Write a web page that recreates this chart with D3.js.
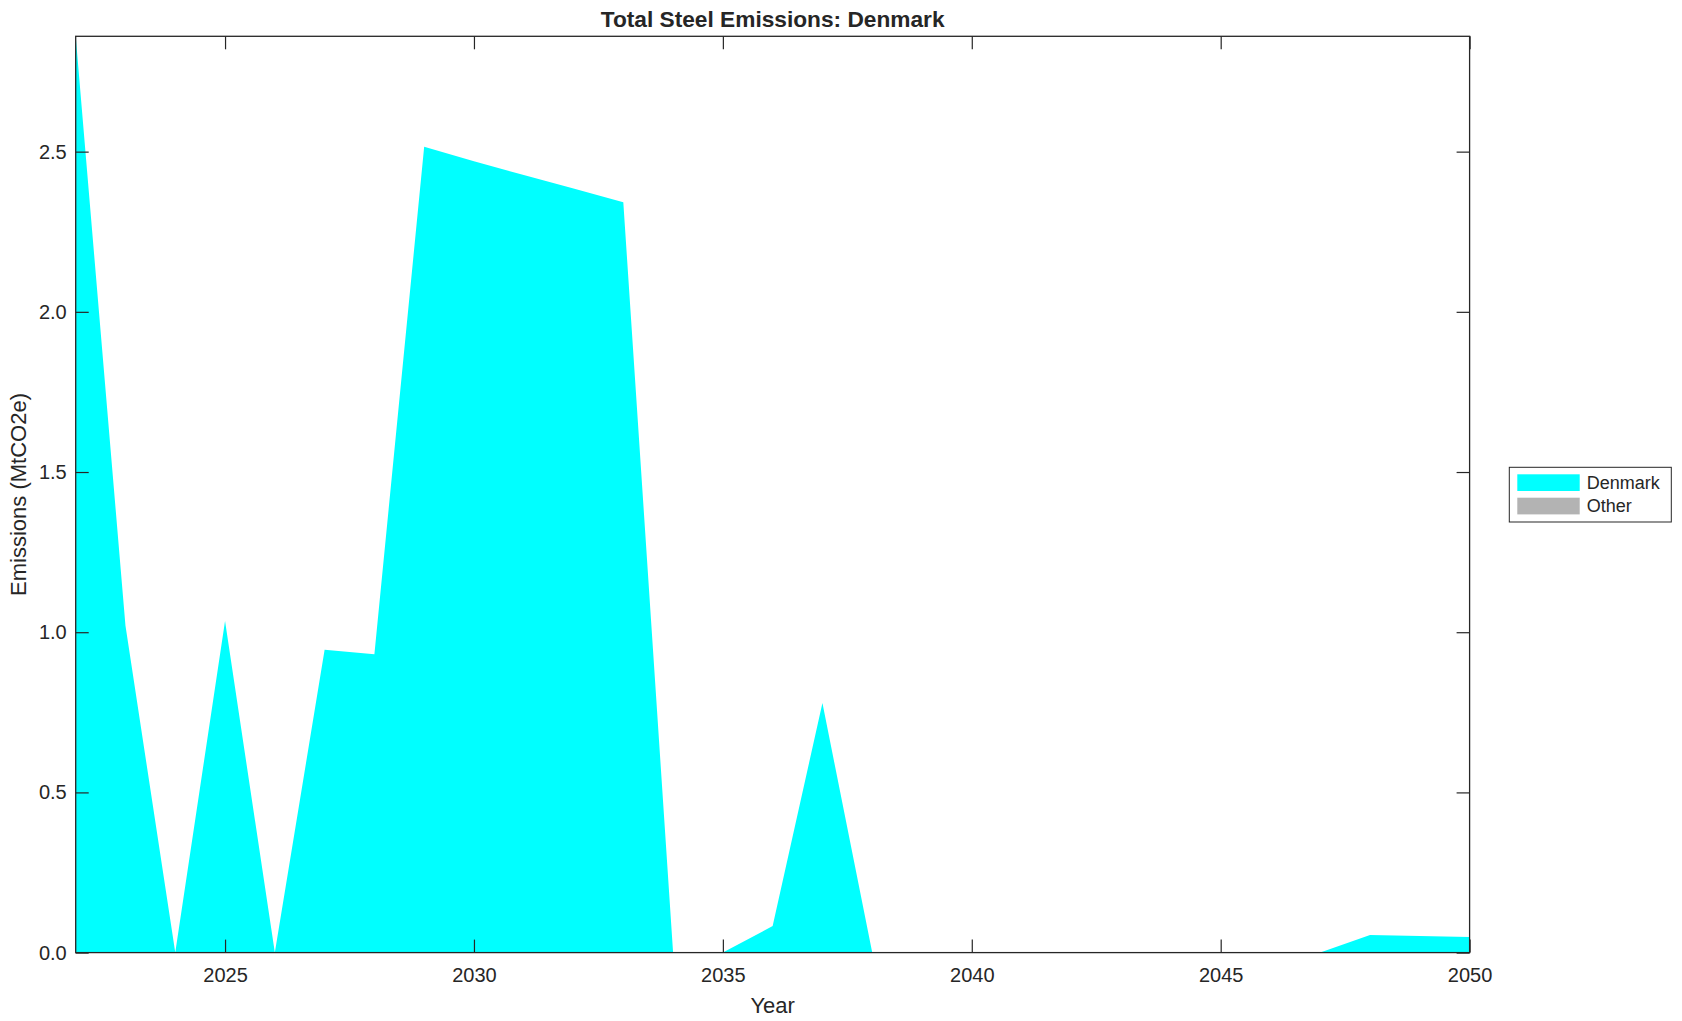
<!DOCTYPE html>
<html>
<head>
<meta charset="utf-8">
<script src="https://cdn.jsdelivr.net/npm/d3@7"></script>
<style>
  body { margin: 0; background: #fff; }
  svg text { font-family: "Liberation Sans", Arial, Helvetica, sans-serif; fill: #262626; }
</style>
</head>
<body>
<svg id="chart" width="1682" height="1021"></svg>
<script>
// data
var years = d3.range(2022, 2051)
var denmark = [2.86, 1.02, 0, 1.035, 0, 0.945, 0.931, 2.515, 2.47, 2.427, 2.385, 2.342, 0, 0,
  0.083, 0.779, 0, 0, 0, 0, 0, 0, 0, 0, 0, 0, 0.055, 0.052, 0.049]
var other = years.map(function () { return 0 })
var seriesNames = ['Denmark', 'Other']
var seriesColors = ['#00ffff', '#b3b3b3']
var xTicks = [2025, 2030, 2035, 2040, 2045, 2050]
var yTicks = [0, 0.5, 1.0, 1.5, 2.0, 2.5]

var svg = d3.select('#chart')
var plotLeft = 75.7, plotRight = 1469.6, plotTop = 36.3, plotBottom = 952.6
var axisColor = '#262626'
var tickLen = 13

var rows = years.map(function (yr, i) {
  return {year: yr, Denmark: denmark[i], Other: other[i]}
})
var stacked = d3.stack().keys(seriesNames)(rows)

var x = d3.scaleLinear().domain([2022, 2050]).range([plotLeft, plotRight])
var y = d3.scaleLinear().domain([0, d3.max(stacked[stacked.length - 1], function (d) { return d[1] })]).range([plotBottom, plotTop])

var area = d3.area()
  .x(function (d) { return x(d.data.year) })
  .y0(function (d) { return y(d[0]) })
  .y1(function (d) { return y(d[1]) })

/** filled areas */
svg.append('g').selectAll('path').data(stacked).enter().append('path')
  .attr('d', area)
  .attr('fill', function (d, i) { return seriesColors[i] })
  .attr('stroke', 'none')

/** axes with inward ticks */
svg.append('g').attr('transform', 'translate(0,' + plotBottom + ')')
  .call(d3.axisBottom(x).tickValues(xTicks).tickFormat(d3.format('d')).tickSizeInner(-tickLen).tickSizeOuter(0).tickPadding(15))
svg.append('g').attr('transform', 'translate(0,' + plotTop + ')')
  .call(d3.axisTop(x).tickValues(xTicks).tickFormat('').tickSizeInner(-tickLen).tickSizeOuter(0))
svg.append('g').attr('transform', 'translate(' + plotLeft + ',0)')
  .call(d3.axisLeft(y).tickValues(yTicks).tickFormat(d3.format('.1f')).tickSizeInner(-tickLen).tickSizeOuter(0).tickPadding(9))
svg.append('g').attr('transform', 'translate(' + plotRight + ',0)')
  .call(d3.axisRight(y).tickValues(yTicks).tickFormat('').tickSizeInner(-tickLen).tickSizeOuter(0))

svg.selectAll('.domain').remove()
svg.selectAll('.tick line').attr('stroke', axisColor).attr('stroke-width', 1.2)
svg.selectAll('.tick text').style('font-size', '20px').attr('fill', axisColor)

/** box round the plot */
svg.append('rect').attr('x', plotLeft).attr('y', plotTop).attr('width', plotRight - plotLeft).attr('height', plotBottom - plotTop)
  .attr('fill', 'none').attr('stroke', axisColor).attr('stroke-width', 1.3)

/** title and labels */
svg.append('text').attr('x', (plotLeft + plotRight) / 2).attr('y', 26.5).attr('text-anchor', 'middle')
  .style('font-size', '22.7px').style('font-weight', 'bold').attr('fill', '#000').text('Total Steel Emissions: Denmark')
svg.append('text').attr('x', (plotLeft + plotRight) / 2).attr('y', 1013).attr('text-anchor', 'middle')
  .style('font-size', '22px').text('Year')
svg.append('text').attr('transform', 'translate(25.5,' + (plotTop + plotBottom) / 2 + ') rotate(-90)').attr('text-anchor', 'middle')
  .style('font-size', '22px').text('Emissions (MtCO2e)')

/** legend */
var legend = svg.append('g').attr('transform', 'translate(1509.3,467.3)')
legend.append('rect').attr('width', 162).attr('height', 54.7).attr('fill', '#fff').attr('stroke', axisColor).attr('stroke-width', 1)
seriesNames.forEach(function (name, i) {
  legend.append('rect').attr('x', 8).attr('y', 7 + i * 23.4).attr('width', 62.4).attr('height', 16.7).attr('fill', seriesColors[i])
  legend.append('text').attr('x', 77.4).attr('y', 15.4 + i * 23.4).attr('dy', '0.35em')
    .style('font-size', '18px').attr('fill', '#000').text(name)
})
</script>
</body>
</html>
